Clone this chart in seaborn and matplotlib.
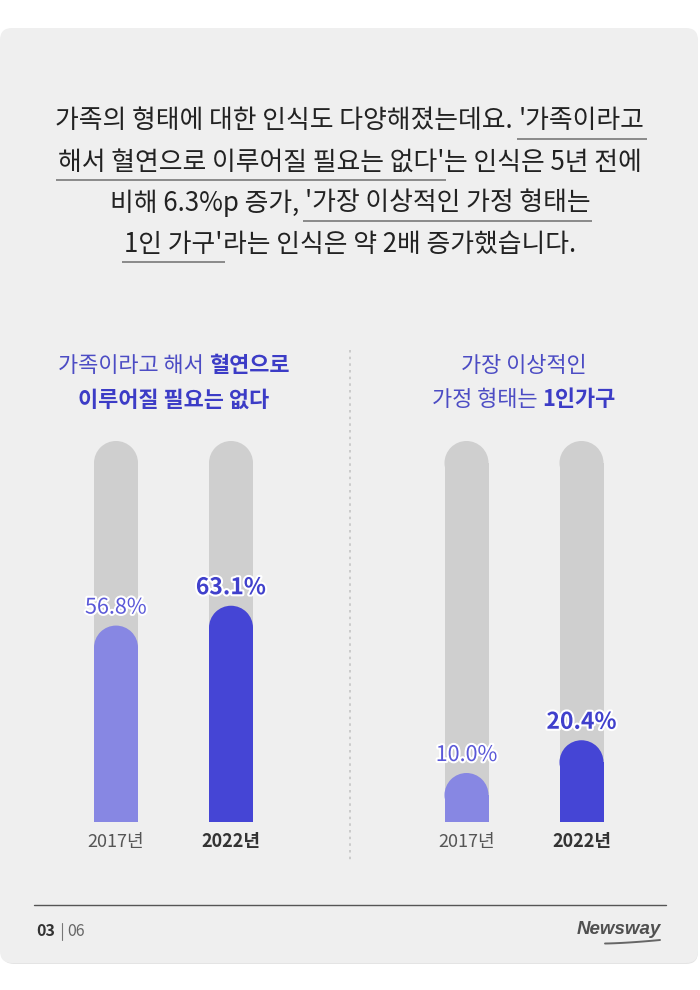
import numpy as np
import pandas as pd
import matplotlib
matplotlib.use('Agg')
import matplotlib.pyplot as plt
import matplotlib.patches as mpatches
import matplotlib.patheffects as pe
import seaborn as sns

# === DATA ===
YEARS = ['2017년', '2022년']
BLOOD_VALUES = [56.8, 63.1]      # '가족이라고 해서 혈연으로 이루어질 필요는 없다'
SINGLE_VALUES = [10.0, 20.4]     # '가장 이상적인 가정 형태는 1인가구'
VALUE_LABELS_BLOOD = ['56.8%', '63.1%']
VALUE_LABELS_SINGLE = ['10.0%', '20.4%']

# paragraph lines: (text, underline, space after)
PARAGRAPH = [
    [("가족의 형태에 대한 인식도 다양해졌는데요.", False, True), ("'가족이라고", True, False)],
    [("해서 혈연으로 이루어질 필요는 없다'", True, False), ("는 인식은 5년 전에", False, False)],
    [("비해 6.3%p 증가,", False, True), ("'가장 이상적인 가정 형태는", True, False)],
    [("1인 가구'", True, False), ("라는 인식은 약 2배 증가했습니다.", False, False)],
]
# panel titles: (text, bold, space after)
TITLE_LEFT = [[("가족이라고 해서", False, True), ("혈연으로", True, False)],
              [("이루어질 필요는 없다", True, False)]]
TITLE_RIGHT = [[("가장 이상적인", False, False)],
               [("가정 형태는", False, True), ("1인가구", True, False)]]

# === STYLE ===
W, H = 700, 990
CARD = '#efefef'
TRACK_C = '#cfcfcf'
LIGHT = '#8787e3'
DARK = '#4545d5'
TITLE_C = '#4c4cc4'
TEXT_C = '#222222'
PX = 3.15            # pixel per percent
TRIM = -4.5 / PX     # rect part slightly shorter than value
CAP_R = 22.0         # cap radius in px
TRACK = 115.4
BASE_Y = 822         # baseline (px from top)
TOP_Y = 441
FONT = ['Noto Sans CJK KR', 'DejaVu Sans']

sns.set_theme(style='white')
plt.rcParams['font.family'] = FONT

fig = plt.figure(figsize=(W / 100, H / 100), dpi=100)
fig.patch.set_facecolor('white')

# background axes in pixel coordinates
bg = fig.add_axes([0, 0, 1, 1], zorder=0)
bg.set_xlim(0, W)
bg.set_ylim(H, 0)
bg.axis('off')
bg.add_patch(mpatches.FancyBboxPatch((2, 31), 696, 933, boxstyle='round,pad=0,rounding_size=12',
                                     fc='#e4e4e4', ec='none'))
bg.add_patch(mpatches.FancyBboxPatch((0, 28), 698, 935, boxstyle='round,pad=0,rounding_size=12',
                                     fc=CARD, ec='none'))

renderer = fig.canvas.get_renderer()


def text_width(s, size, weight):
    t = bg.text(0, 0, s, fontsize=size, fontweight=weight)
    w = t.get_window_extent(renderer).width
    t.remove()
    return w


def draw_line(cx, cy, segments, size, color, bold_color=None, underline=False, stretch=1.0):
    space = text_width('가 가', size, 'normal') - text_width('가가', size, 'normal')
    widths = []
    for seg in segments:
        weight = 'bold' if (not underline and seg[1]) else 'normal'
        widths.append(text_width(seg[0], size, weight))
    total = sum(widths) + sum(space for s in segments if s[2])
    x = cx - total / 2
    for seg, w in zip(segments, widths):
        if underline:
            bg.text(x, cy, seg[0], fontsize=size, color=color, ha='left', va='center')
            if seg[1]:
                bg.plot([x - 2, x + w + 2], [cy + 18, cy + 18], color='#8a8a8a', lw=1.4,
                        solid_capstyle='butt')
        else:
            bg.text(x, cy, seg[0], fontsize=size, ha='left', va='center',
                    color=bold_color if seg[1] else color,
                    fontweight='bold' if seg[1] else 'normal')
        x += w + (space if seg[2] else 0)


for i, line in enumerate(PARAGRAPH):
    draw_line(350, 121 + i * 41, line, 18.6, TEXT_C, underline=True)

for i, line in enumerate(TITLE_LEFT):
    draw_line(174, 366 + i * 34, line, 15.8, TITLE_C, bold_color='#3c3cc6')
for i, line in enumerate(TITLE_RIGHT):
    draw_line(524, 366 + i * 34, line, 15.8, TITLE_C, bold_color='#3c3cc6')

# dotted divider
bg.plot([350, 350], [350, 860], color='#c4c4c4', lw=1.2, linestyle=(0, (1.5, 2.5)))

# footer
bg.plot([34, 666], [905, 905], color='#555555', lw=1)
bg.text(36, 931, '03', fontsize=11.5, fontweight='bold', color='#333333', va='center')
bg.plot([62, 62], [923, 940], color='#777777', lw=0.8)
bg.text(67, 931, '06', fontsize=11.5, color='#666666', va='center')
bg.text(661, 929, 'Newsway', fontsize=13.5, fontweight='bold', fontstyle='italic',
        family=['Liberation Sans', 'DejaVu Sans'], color='#505050', ha='right', va='center')
sw = np.linspace(0, 1, 30)
bg.plot(605 + 55 * sw, 943.5 - 3.5 * sw ** 1.5, color='#666666', lw=1.4)


# === CHART PANELS ===
def round_tops(ax, patches):
    for p in patches:
        p.set_linewidth(0)
        p.set_edgecolor('none')
        h = p.get_height() + TRIM
        p.set_height(h)
        x0, w = p.get_x(), p.get_width()
        cap = mpatches.Ellipse((x0 + w / 2, h), w, 2 * CAP_R / PX,
                               fc=p.get_facecolor(), ec='none', lw=0, zorder=p.get_zorder())
        ax.add_patch(cap)


def panel(left_px, values, labels):
    width_px = 2.2 * 115
    ax = fig.add_axes([left_px / W, (H - BASE_Y) / H, width_px / W, (BASE_Y - TOP_Y) / H], zorder=2)
    ax.patch.set_alpha(0)
    df = pd.DataFrame({'year': YEARS, 'value': values, 'track': [TRACK] * len(YEARS)})

    sns.barplot(data=df, x='year', y='track', color=TRACK_C, width=44 / 115,
                saturation=1, linewidth=0, ax=ax)
    track_patches = list(ax.patches)
    round_tops(ax, track_patches)

    n0 = len(ax.patches)
    sns.barplot(data=df, x='year', y='value', hue='year', palette=[LIGHT, DARK],
                width=44 / 115, saturation=1, legend=False, dodge=False, linewidth=0, ax=ax)
    bar_patches = [p for p in ax.patches[n0:] if p.get_height() > 0]
    round_tops(ax, bar_patches)

    ax.set_xlim(-0.6, 1.6)
    ax.set_ylim(0, (BASE_Y - TOP_Y) / PX)
    ax.axis('off')

    for i, (v, lab) in enumerate(zip(values, labels)):
        bold = i == 1
        ax.text(i, v + TRIM + (CAP_R + 18) / PX, lab, ha='center', va='center',
                fontsize=16.5 if bold else 15.5, fontweight='bold' if bold else 'normal',
                color='#4040cc' if bold else '#5a58d8', clip_on=False,
                path_effects=[pe.withStroke(linewidth=3, foreground='white')])
        ax.text(i, -20 / PX, YEARS[i], ha='center', va='center', fontsize=13,
                fontweight='bold' if bold else 'normal',
                color='#333333' if bold else '#555555', clip_on=False)
    return ax


panel(47, BLOOD_VALUES, VALUE_LABELS_BLOOD)
panel(397.5, SINGLE_VALUES, VALUE_LABELS_SINGLE)

fig.savefig('out.png', dpi=100, facecolor='white')
